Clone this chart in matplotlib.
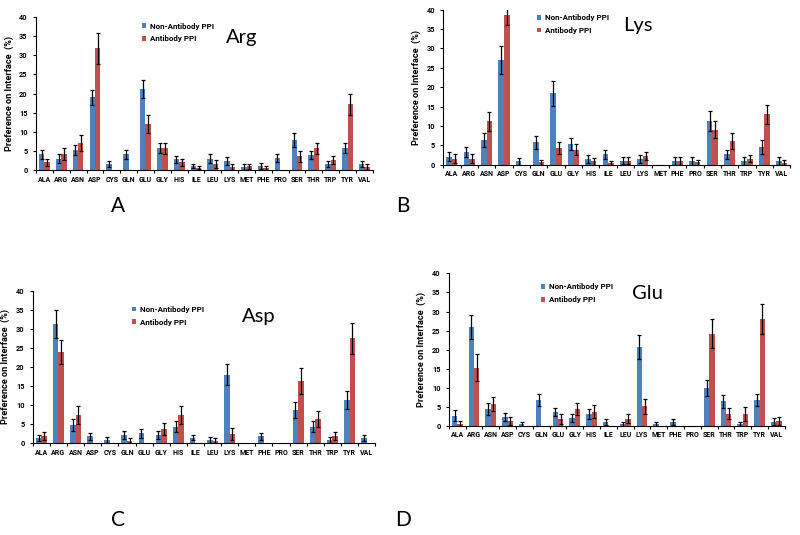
import numpy as np
import matplotlib
matplotlib.use("Agg")
import matplotlib.pyplot as plt

residues = ["ALA", "ARG", "ASN", "ASP", "CYS", "GLN", "GLU", "GLY", "HIS", "ILE",
            "LEU", "LYS", "MET", "PHE", "PRO", "SER", "THR", "TRP", "TYR", "VAL"]

# Arg
arg_non = [4.1, 3.0, 5.2, 19.0, 1.6, 4.1, 21.2, 5.9, 2.8, 1.1, 3.0, 2.4, 0.8, 1.1, 3.1, 7.8, 3.9, 1.6, 5.9, 1.6]
arg_non_err = [1.1, 1.1, 1.3, 2.0, 0.9, 1.1, 2.4, 1.3, 0.9, 0.6, 1.2, 1.1, 0.7, 0.8, 1.1, 1.8, 1.1, 0.8, 1.3, 0.8]
arg_ab = [2.0, 4.2, 7.2, 31.8, 0, 0, 12.0, 5.7, 2.0, 0.6, 1.6, 0.9, 1.0, 0.5, 0, 3.6, 5.7, 2.6, 17.2, 0.9]
arg_ab_err = [1.0, 1.5, 2.1, 4.0, 0, 0, 2.3, 1.5, 1.0, 0.4, 1.0, 0.8, 0.7, 0.5, 0, 1.4, 1.5, 1.1, 2.7, 0.8]

# Lys
lys_non = [2.1, 3.2, 6.4, 27.0, 0.9, 5.8, 18.4, 5.3, 1.5, 2.7, 1.0, 1.5, 0, 0.9, 0.9, 11.3, 2.7, 0.9, 4.6, 0.9]
lys_non_err = [1.1, 1.3, 1.9, 3.6, 0.9, 1.7, 3.2, 1.5, 1.0, 1.2, 0.9, 1.0, 0, 1.0, 1.0, 2.5, 1.2, 1.0, 1.9, 1.0]
lys_ab = [1.6, 1.6, 11.2, 38.5, 0, 0.6, 4.4, 3.9, 0.9, 0.5, 1.0, 2.3, 0, 0.9, 0.6, 9.0, 6.1, 1.6, 13.0, 0.5]
lys_ab_err = [1.1, 1.1, 2.5, 2.5, 0, 0.6, 1.6, 1.5, 0.9, 0.6, 0.9, 1.0, 0, 1.0, 0.6, 2.2, 2.0, 1.0, 2.5, 0.8]

# Asp
asp_non = [1.3, 31.2, 4.7, 1.7, 0.8, 2.1, 2.5, 2.1, 4.3, 1.4, 0.8, 17.9, 0, 1.7, 0, 8.7, 4.3, 0.8, 11.3, 1.3]
asp_non_err = [0.8, 3.6, 1.6, 0.9, 0.7, 1.0, 1.2, 1.0, 1.4, 0.7, 0.7, 2.8, 0, 0.9, 0, 2.1, 1.5, 0.8, 2.3, 0.8]
asp_ab = [1.9, 23.8, 7.4, 0, 0, 0.6, 0, 3.7, 7.4, 0, 0.6, 2.4, 0, 0, 0, 16.2, 6.3, 1.8, 27.5, 0]
asp_ab_err = [1.1, 3.2, 2.3, 0, 0, 0.7, 0, 1.5, 2.4, 0, 0.7, 1.6, 0, 0, 0, 3.4, 2.0, 1.1, 4.1, 0]

# Glu
glu_non = [2.7, 25.9, 4.4, 2.4, 0.4, 6.8, 3.6, 2.0, 3.2, 1.0, 0.4, 20.7, 0.4, 1.0, 0, 10.0, 6.4, 0.5, 6.8, 1.1]
glu_non_err = [1.4, 3.2, 1.5, 1.1, 0.6, 1.6, 1.1, 1.1, 1.3, 0.9, 0.6, 3.2, 0.6, 0.9, 0, 2.1, 1.7, 0.5, 1.6, 0.9]
glu_ab = [0.6, 15.3, 5.7, 1.3, 0, 0, 1.8, 4.4, 3.7, 0, 1.9, 5.1, 0, 0, 0, 24.2, 3.2, 3.2, 28.0, 1.3]
glu_ab_err = [0.7, 3.5, 1.8, 1.1, 0, 0, 1.2, 1.6, 1.7, 0, 1.2, 2.0, 0, 0, 0, 3.8, 1.5, 1.8, 4.0, 1.1]

BLUE = "#4f81bd"
RED = "#c0504d"
BOLD_FONT = "Roboto"
TITLE_FONT = "Lato"


def panel(fig, rect, title, non, non_err, ab, ab_err, title_xy, legend_xy, letter_xy, letter):
    ax = fig.add_axes(rect)
    x = np.arange(len(residues))
    w = 0.32
    non = np.array(non); ab = np.array(ab)
    non_err = np.array(non_err); ab_err = np.array(ab_err)
    ax.bar(x - w / 2, non, w, color=BLUE, label="Non-Antibody PPI")
    ax.bar(x + w / 2, ab, w, color=RED, label="Antibody PPI")
    # no error bars on empty bars
    m = non_err > 0
    ax.errorbar(x[m] - w / 2, non[m], yerr=non_err[m], fmt="none", ecolor="black",
                elinewidth=0.9, capsize=1.5, capthick=0.9)
    m = ab_err > 0
    ax.errorbar(x[m] + w / 2, ab[m], yerr=ab_err[m], fmt="none", ecolor="black",
                elinewidth=0.9, capsize=1.5, capthick=0.9)

    ax.set_xlim(-0.5, len(residues) - 0.5)
    ax.set_ylim(0, 40)
    ax.set_yticks(range(0, 41, 5))
    ax.set_xticks(x)
    ax.set_xticklabels(residues, fontsize=5.0, fontweight="bold", family=BOLD_FONT)
    ax.set_xticks(np.arange(-0.5, len(residues), 1), minor=True)
    ax.tick_params(axis="x", which="major", length=0, pad=4)
    ax.tick_params(axis="x", which="minor", length=2.5, width=0.8, direction="out")
    ax.tick_params(axis="y", labelsize=5.3, length=2.5, width=0.8)
    for lbl in ax.get_yticklabels():
        lbl.set_fontweight("bold")
        lbl.set_family(BOLD_FONT)
    for s in ["top", "right"]:
        ax.spines[s].set_visible(False)
    ax.spines["left"].set_linewidth(0.8)
    ax.spines["bottom"].set_linewidth(0.8)
    ax.set_ylabel("Preference on Interface  (%)", fontsize=6.6, fontweight="bold",
                  family=BOLD_FONT, labelpad=4)

    ax.text(title_xy[0], title_xy[1], title, transform=ax.transAxes, fontsize=14.5,
            ha="center", va="center", family=TITLE_FONT)
    ax.legend(loc="upper left", bbox_to_anchor=legend_xy, frameon=False,
              prop={"size": 5.8, "weight": "bold", "family": BOLD_FONT},
              handlelength=0.5, handleheight=0.5,
              labelspacing=0.7, handletextpad=0.5, borderaxespad=0)
    fig.text(letter_xy[0], letter_xy[1], letter, fontsize=15, ha="center", va="center",
             family=TITLE_FONT)
    return ax


fig = plt.figure(figsize=(8, 5.35), dpi=100)

panel(fig, [0.045, 0.682, 0.421, 0.286], "Arg", arg_non, arg_non_err, arg_ab, arg_ab_err,
      (0.61, 0.87), (0.305, 0.985), (0.148, 0.615), "A")
panel(fig, [0.554, 0.692, 0.434, 0.290], "Lys", lys_non, lys_non_err, lys_ab, lys_ab_err,
      (0.56, 0.9), (0.26, 0.99), (0.504, 0.615), "B")
panel(fig, [0.041, 0.172, 0.428, 0.285], "Asp", asp_non, asp_non_err, asp_ab, asp_ab_err,
      (0.66, 0.83), (0.28, 0.92), (0.148, 0.028), "C")
panel(fig, [0.561, 0.204, 0.420, 0.285], "Glu", glu_non, glu_non_err, glu_ab, glu_ab_err,
      (0.59, 0.87), (0.265, 0.955), (0.504, 0.028), "D")

plt.savefig("out.png", dpi=100)
plt.close()
